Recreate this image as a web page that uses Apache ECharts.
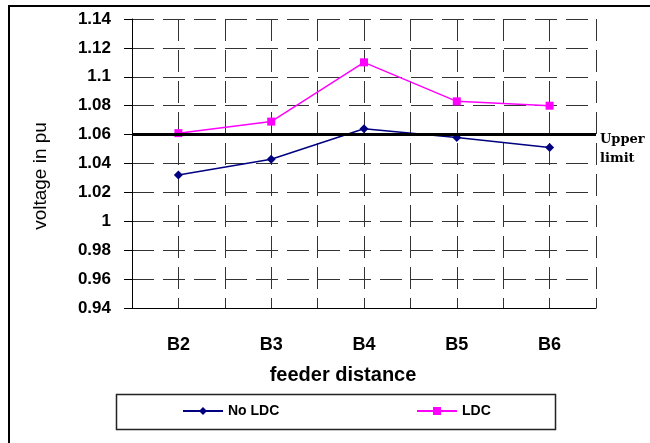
<!DOCTYPE html>
<html>
<head>
<meta charset="utf-8">
<script src="https://cdn.jsdelivr.net/npm/echarts@6/dist/echarts.min.js"></script>
<style>
  html, body { margin: 0; padding: 0; background: #fff; }
  #chart { width: 650px; height: 443px; }
</style>
</head>
<body>
<div id="chart"></div>
<script>
const categories = ['B2', 'B3', 'B4', 'B5', 'B6'];
const noLdc = [1.032, 1.043, 1.064, 1.058, 1.051];
const ldc = [1.061, 1.069, 1.110, 1.083, 1.080];
const upperLimit = 1.06;

const chart = echarts.init(document.getElementById('chart'), null, { renderer: 'canvas' });

const dash = { color: '#333', width: 1, type: [22, 9] };
const font = 'Arial, Liberation Sans';

const legendBase = {
  top: 404,
  itemWidth: 40,
  itemHeight: 10,
  padding: 0,
  textStyle: { fontFamily: font, fontWeight: 'bold', fontSize: 14, color: '#000' }
};

const options = {
  animation: false,
  grid: { left: 132, right: 54, top: 19, bottom: 135 },
  xAxis: [
    {
      type: 'category',
      data: categories,
      boundaryGap: true,
      axisLine: { lineStyle: { color: '#000', width: 1 } },
      axisTick: { length: 8, lineStyle: { color: '#000' } },
      axisLabel: { margin: 28, fontFamily: font, fontWeight: 'bold', fontSize: 18, color: '#000' },
      splitLine: { show: false }
    },
    {
      // helper axis for the dashed vertical grid (centres and boundaries)
      type: 'value',
      min: 0,
      max: 10,
      interval: 1,
      position: 'bottom',
      axisLine: { show: false },
      axisTick: { show: false },
      axisLabel: { show: false },
      splitLine: { show: true, lineStyle: dash }
    }
  ],
  yAxis: {
    type: 'value',
    min: 0.94,
    max: 1.14,
    interval: 0.02,
    axisLine: { show: true, lineStyle: { color: '#000', width: 1 } },
    axisTick: { show: true, length: 8, lineStyle: { color: '#000' } },
    axisLabel: {
      margin: 21,
      fontFamily: font,
      fontWeight: 'bold',
      fontSize: 17,
      color: '#000',
      formatter: (v) => String(+v.toFixed(2))
    },
    splitLine: { show: true, lineStyle: dash }
  },
  legend: [
    Object.assign({ left: 182, data: ['No LDC'] }, legendBase),
    Object.assign({ left: 416, data: ['LDC'] }, legendBase)
  ],
  series: [
    {
      name: 'No LDC',
      type: 'line',
      data: noLdc,
      symbol: 'diamond',
      symbolSize: 9,
      lineStyle: { color: '#000080', width: 1.5 },
      itemStyle: { color: '#000080' },
      markLine: {
        silent: true,
        symbol: 'none',
        label: { show: false },
        lineStyle: { color: '#000', width: 3, type: 'solid' },
        data: [{ yAxis: upperLimit }]
      },
      z: 3
    },
    {
      name: 'LDC',
      type: 'line',
      data: ldc,
      symbol: 'rect',
      symbolSize: 8,
      lineStyle: { color: '#ff00ff', width: 1.5 },
      itemStyle: { color: '#ff00ff' },
      z: 3
    }
  ],
  graphic: [
    {
      type: 'rect',
      shape: { x: 9, y: 6, width: 700, height: 500 },
      style: { fill: 'none', stroke: '#000', lineWidth: 2 },
      silent: true
    },
    {
      type: 'rect',
      shape: { x: 116.5, y: 394.5, width: 439, height: 35 },
      style: { fill: 'none', stroke: '#222', lineWidth: 1.5 },
      silent: true
    },
    {
      type: 'text',
      x: 41,
      y: 176,
      rotation: Math.PI / 2,
      style: {
        text: 'voltage in pu',
        fontFamily: font,
        fontSize: 19,
        fill: '#000',
        align: 'center',
        verticalAlign: 'middle'
      }
    },
    {
      type: 'text',
      x: 343,
      y: 375,
      style: {
        text: 'feeder distance',
        fontFamily: font,
        fontWeight: 'bold',
        fontSize: 20,
        fill: '#000',
        align: 'center',
        verticalAlign: 'middle'
      }
    },
    {
      type: 'text',
      left: 600,
      top: 130,
      style: {
        text: 'Upper\nlimit',
        fontFamily: 'DejaVu Serif, Liberation Serif',
        fontWeight: 'bold',
        fontSize: 13,
        lineHeight: 19,
        fill: '#000'
      }
    }
  ]
};

try {
  chart.setOption(options);
} catch (err) {
  console.error('chart', err);
}
</script>
</body>
</html>
